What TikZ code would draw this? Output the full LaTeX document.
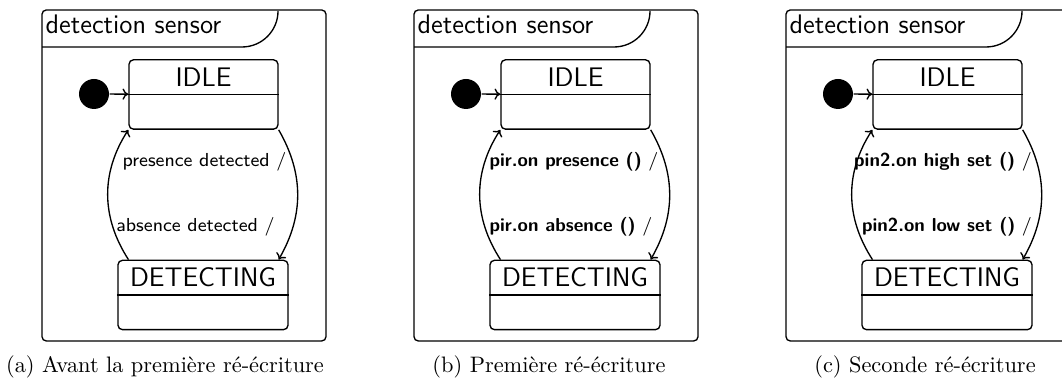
\documentclass[tikz,border=0pt]{standalone}
\usepackage{tikz}
\usetikzlibrary{arrows.meta,calc}

\begin{document}
\begin{tikzpicture}[
   x=0.447pt, y=0.447pt,
   line width=0.6pt,
   panel/.style={draw, rounded corners=2pt, inner sep=0pt,
                 minimum width=127pt, minimum height=148pt},
   frametitle/.style={font=\sffamily\large, anchor=base west, inner sep=0pt},
   initdot/.style={circle, fill, inner sep=0pt, minimum size=13.4pt},
   statebox/.style={draw, rounded corners=2pt, inner sep=0pt, minimum height=31pt},
   statename/.style={font=\sffamily\large, inner sep=0pt},
   guard/.style={font=\sffamily\fontsize{8.4}{10}\selectfont, inner sep=0pt},
   trans/.style={-{To[length=2.6pt, width=5pt]}},
   subcap/.style={font=\rmfamily, inner sep=0pt},
]
  \useasboundingbox (0,0) rectangle (1062,385);

  % (a) avant la premiere re-ecriture
  \node[panel] (frameA) at (184,209.5) {};
  \draw (42,338) -- (242,338) arc[start angle=270, end angle=360, radius=16.1pt];
  \node[frametitle] (titleA) at (45,351) {detection sensor};
  \node[initdot] (initA) at (94,291) {};
  \node[statebox, minimum width=66.6pt] (idleA) at (203.5,290.5) {};
  \draw (idleA.west) -- (idleA.east);
  \node[statename] (idleAname) at ($(idleA.center)!.5!(idleA.north)$) {IDLE};
  \node[statebox, minimum width=76pt] (detA) at (203,90) {};
  \draw (detA.west) -- (detA.east);
  \node[statename] (detAname) at ($(detA.center)!.5!(detA.north)$) {DETECTING};
  \draw[trans] (initA) -- (idleA);
  \draw[trans] (idleA.south east) to[out=-60, in=60] ([xshift=-4.5pt]detA.north east);
  \draw[trans] ([xshift=5pt]detA.north west) to[out=123, in=-123] (idleA.south west);
  \node[guard] (onA) at (204.5,223) {presence detected /};
  \node[guard] (offA) at (195.5,158) {absence detected /};
  \node[subcap] (capA) at (165,18) {(a) Avant la première ré-écriture};

  % (b) premiere re-ecriture
  \node[panel] (frameB) at (556,209.5) {};
  \draw (414,338) -- (614,338) arc[start angle=270, end angle=360, radius=16.1pt];
  \node[frametitle] (titleB) at (417,351) {detection sensor};
  \node[initdot] (initB) at (466,291) {};
  \node[statebox, minimum width=66.6pt] (idleB) at (575.5,290.5) {};
  \draw (idleB.west) -- (idleB.east);
  \node[statename] (idleBname) at ($(idleB.center)!.5!(idleB.north)$) {IDLE};
  \node[statebox, minimum width=76pt] (detB) at (575,90) {};
  \draw (detB.west) -- (detB.east);
  \node[statename] (detBname) at ($(detB.center)!.5!(detB.north)$) {DETECTING};
  \draw[trans] (initB) -- (idleB);
  \draw[trans] (idleB.south east) to[out=-60, in=60] ([xshift=-4.5pt]detB.north east);
  \draw[trans] ([xshift=5pt]detB.north west) to[out=123, in=-123] (idleB.south west);
  \node[guard] (onB) at (574,223) {\textbf{pir.on presence ()} /};
  \node[guard] (offB) at (571,158) {\textbf{pir.on absence ()} /};
  \node[subcap] (capB) at (549,18) {(b) Première ré-écriture};

  % (c) seconde re-ecriture
  \node[panel] (frameC) at (928,209.5) {};
  \draw (786,338) -- (986,338) arc[start angle=270, end angle=360, radius=16.1pt];
  \node[frametitle] (titleC) at (789,351) {detection sensor};
  \node[initdot] (initC) at (838,291) {};
  \node[statebox, minimum width=66.6pt] (idleC) at (947.5,290.5) {};
  \draw (idleC.west) -- (idleC.east);
  \node[statename] (idleCname) at ($(idleC.center)!.5!(idleC.north)$) {IDLE};
  \node[statebox, minimum width=76pt] (detC) at (947,90) {};
  \draw (detC.west) -- (detC.east);
  \node[statename] (detCname) at ($(detC.center)!.5!(detC.north)$) {DETECTING};
  \draw[trans] (initC) -- (idleC);
  \draw[trans] (idleC.south east) to[out=-60, in=60] ([xshift=-4.5pt]detC.north east);
  \draw[trans] ([xshift=5pt]detC.north west) to[out=123, in=-123] (idleC.south west);
  \node[guard] (onC) at (943,223) {\textbf{pin2.on high set ()} /};
  \node[guard] (offC) at (947,158) {\textbf{pin2.on low set ()} /};
  \node[subcap] (capC) at (925,18) {(c) Seconde ré-écriture};
\end{tikzpicture}
\end{document}
